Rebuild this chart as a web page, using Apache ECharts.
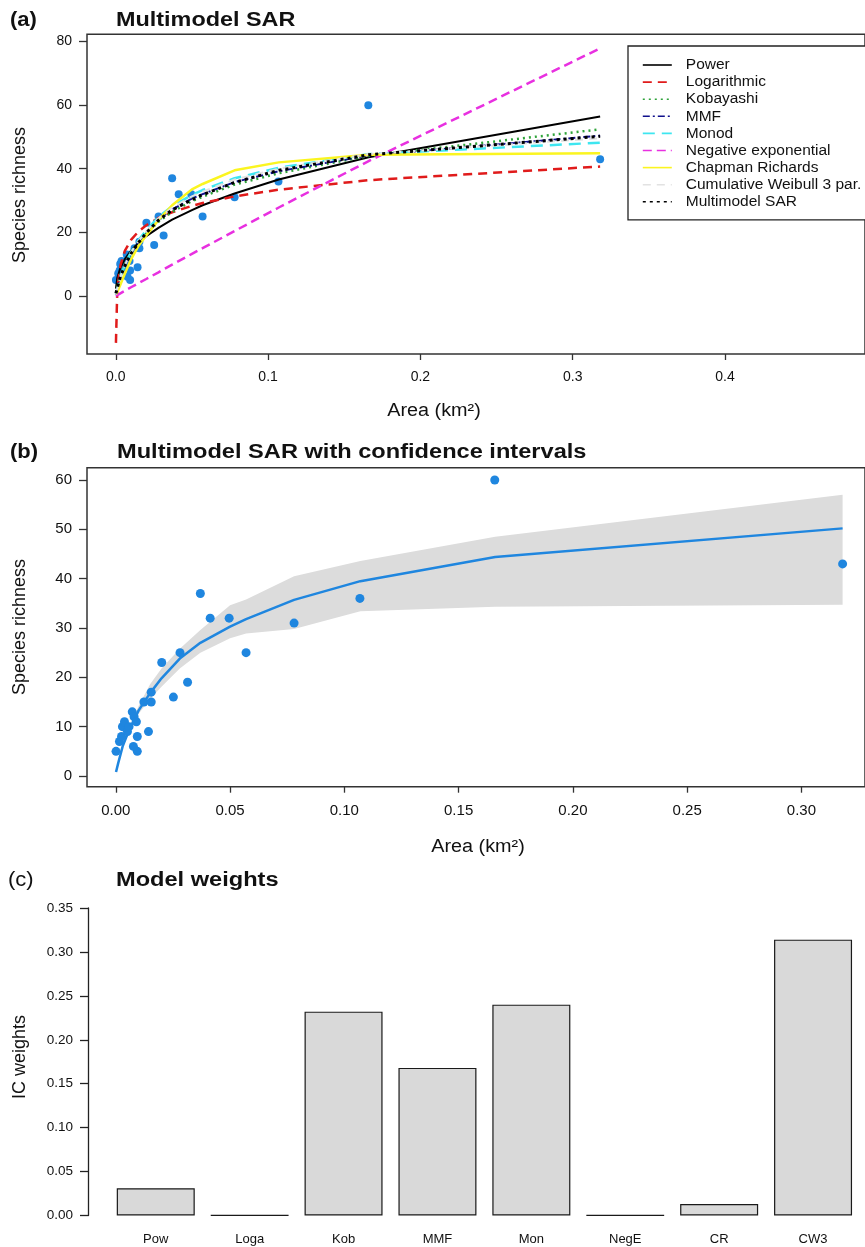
<!DOCTYPE html>
<html><head><meta charset="utf-8">
<script src="https://cdn.jsdelivr.net/npm/echarts@6/dist/echarts.min.js"></script>
<style>html,body{margin:0;padding:0;background:#fff}#c{width:865px;height:1247px}</style>
</head><body><div id="c"></div>
<script>
// ---------- data ----------
const areaObs = [0.0001,0.0016,0.0025,0.0029,0.0038,0.0051,0.0058,0.0072,0.0080,0.0090,0.0094,0.0077,0.0094,0.0123,0.0155,0.0155,0.0143,0.0201,0.0252,0.0281,0.0314,0.0370,0.0413,0.0496,0.0570,0.0780,0.1068,0.1658,0.3180];
const richObs = [5,7,8,10,11,9,10,13,12,11,8,6,5,15,15,17,9,23,16,25,19,37,32,32,25,31,36,60,43];

const curveX      = [0.0001,0.001,0.003,0.006,0.01,0.015,0.02,0.028,0.037,0.05,0.057,0.078,0.107,0.166,0.318];
const powerY      = [2.3,5.7,8.8,11.6,14.2,16.7,18.8,21.4,24.0,27.0,28.5,32.2,36.6,43.6,56.4];
const logY        = [-14.8,2.2,9.5,14.2,17.6,20.3,22.2,24.5,26.3,28.3,29.2,31.3,33.4,36.4,40.7];
const kobY        = [1.0,3.0,6.5,10.0,13.6,16.9,19.6,23.3,26.4,29.8,31.2,35.0,38.6,44.0,52.4];
const mmfY        = [0.5,2.4,6.0,9.6,13.4,17.0,20.0,24.0,27.2,30.6,32.0,35.8,39.2,44.2,50.4];
const monodY      = [0.3,2.2,6.0,9.8,13.8,17.6,20.6,24.8,28.2,31.8,33.3,37.0,40.3,44.6,48.2];
const negExpY     = [0.0,0.3,0.8,1.6,2.7,4.0,5.3,7.4,9.8,13.2,15.0,20.4,27.8,42.4,77.9];
const chapmanY    = [0.5,1.2,3.5,7.0,11.5,15.8,19.0,23.8,28.5,33.5,35.2,39.5,42.0,44.4,44.9];
const weibullY    = [0.5,2.3,6.0,9.7,13.6,17.3,20.3,24.4,27.8,31.3,32.8,36.6,40.0,44.6,49.6];
const multiY      = [0.8,2.5,6.0,9.5,13.3,16.8,19.8,23.8,27.0,30.3,31.8,35.7,39.5,44.4,50.2];
const ciLower     = [0.4,2.4,5.8,9.0,12.6,15.6,18.1,21.8,25.0,27.9,28.9,29.8,33.4,34.3,34.7];
const ciUpper     = [0.6,2.6,6.3,10.0,14.2,18.6,21.8,25.8,29.6,34.6,35.8,40.5,43.6,48.5,57.0];

const modelNames  = ['Power','Logarithmic','Kobayashi','MMF','Monod','Negative exponential','Chapman Richards','Cumulative Weibull 3 par.','Multimodel SAR'];
const weightCats  = ['Pow','Loga','Kob','MMF','Mon','NegE','CR','CW3'];
const weightVals  = [0.031,0.0002,0.232,0.168,0.240,0.0002,0.013,0.314];

const ticksAX = [0,0.1,0.2,0.3,0.4];
const ticksAY = [0,20,40,60,80];
const ticksBX = [0,0.05,0.10,0.15,0.20,0.25,0.30];
const ticksBY = [0,10,20,30,40,50,60];

// ---------- helpers ----------
const FONT = '"Liberation Sans", Arial, sans-serif';
const zip = (xs, ys) => xs.map((x, i) => [x, ys[i]]);
const obsPts = zip(areaObs, richObs);
const modelYs = [powerY, logY, kobY, mmfY, monodY, negExpY, chapmanY, weibullY, multiY];
const modelStyle = [
  {color:'#000000', width:2,   type:'solid'},
  {color:'#e01b1b', width:2.5, type:[9,6]},
  {color:'#2fa33a', width:2.5, type:[2,4]},
  {color:'#10108c', width:2,   type:[7,3,2,3]},
  {color:'#3ee6f0', width:2.5, type:[12,7]},
  {color:'#e830e0', width:2.5, type:[9,5]},
  {color:'#fbf520', width:2.5, type:'solid'},
  {color:'#e2e2e2', width:2,   type:[8,6]},
  {color:'#000000', width:3,   type:[3,4]}
];
const BLUE = '#1f86df';

const axisLbl = (size, fmt) => ({fontFamily: FONT, fontSize: size, color:'#111', formatter: fmt});

const series = [];
series.push({type:'scatter', xAxisIndex:0, yAxisIndex:0, data: obsPts, symbolSize:8,
  itemStyle:{color:BLUE, opacity:1}, z:1, silent:true});
modelNames.forEach((n, i) => {
  series.push({type:'line', name:n, xAxisIndex:0, yAxisIndex:0, data: zip(curveX, modelYs[i]),
    symbol:'none', smooth:false, z:2+i, silent:true,
    lineStyle:{color:modelStyle[i].color, width:modelStyle[i].width, type:modelStyle[i].type, cap:'butt'},
    itemStyle:{color:modelStyle[i].color}});
});
// panel b: confidence band as polygon through the axis scales
const bandData = curveX.map((x, i) => [x, ciLower[i], ciUpper[i]]);
series.push({type:'custom', name:'ciBand', xAxisIndex:1, yAxisIndex:1, data: bandData, silent:true, z:1,
  clip:true,
  renderItem: function (params, api) {
    if (params.dataIndex !== 0) return null;
    const up = bandData.map(d => api.coord([d[0], d[2]]));
    const lo = bandData.map(d => api.coord([d[0], d[1]])).reverse();
    return {type:'polygon', shape:{points: up.concat(lo)}, style:{fill:'#dcdcdc', stroke:null}};
  }});
series.push({type:'line', name:'mmB', xAxisIndex:1, yAxisIndex:1, data: zip(curveX, multiY),
  symbol:'none', lineStyle:{color:BLUE, width:2.5}, silent:true, z:3});
series.push({type:'scatter', name:'obsB', xAxisIndex:1, yAxisIndex:1, data: obsPts, symbolSize:9,
  itemStyle:{color:BLUE, opacity:1}, silent:true, z:4});
// panel c
series.push({type:'bar', name:'weights', xAxisIndex:2, yAxisIndex:2, data: weightVals, barWidth:78,
  itemStyle:{color:'#d9d9d9', borderColor:'#1a1a1a', borderWidth:1.2}, silent:true});

const txt = (x, y, t, size, bold, sx) => ({type:'text', x, y, scaleX: sx || 1,
  style:{text:t, fontFamily:FONT, fontSize:size, fontWeight: bold ? 'bold':'normal', fill:'#111',
         textVerticalAlign:'middle'}});
const rtxt = (x, y, t, size) => ({type:'text', x, y, rotation: Math.PI/2,
  style:{text:t, fontFamily:FONT, fontSize:size, fill:'#111', textAlign:'center', textVerticalAlign:'middle'}});
const ctxt = (x, y, t, size, sx) => ({type:'text', x, y, scaleX: sx || 1,
  style:{text:t, fontFamily:FONT, fontSize:size, fill:'#111', textAlign:'center', textVerticalAlign:'middle'}});

const tickStyle = {color:'#333', width:1.3};
const option = {
  animation:false,
  backgroundColor:'#fff',
  grid:[
    {left:87, right:-5, top:34.3, bottom:893, show:true, borderColor:'#333', borderWidth:1.5, backgroundColor:'transparent'},
    {left:87, right:-5, top:467.7, bottom:460.3, show:true, borderColor:'#333', borderWidth:1.5, backgroundColor:'transparent'},
    {left:108.8, right:5, top:908, bottom:31.5}
  ],
  xAxis:[
    {type:'value', gridIndex:0, min:-0.0189, max:0.4919, splitLine:{show:false},
     axisLine:{show:false, onZero:false}, axisTick:{show:true, customValues:ticksAX, length:6, lineStyle:tickStyle},
     axisLabel:Object.assign(axisLbl(14, v => v.toFixed(1)), {customValues:ticksAX, margin:16})},
    {type:'value', gridIndex:1, min:-0.0126, max:0.3278, splitLine:{show:false},
     axisLine:{show:false, onZero:false}, axisTick:{show:true, customValues:ticksBX, length:6, lineStyle:tickStyle},
     axisLabel:Object.assign(axisLbl(15, v => v.toFixed(2)), {customValues:ticksBX, margin:17})},
    {type:'category', gridIndex:2, data:weightCats, axisLine:{show:false, onZero:false}, axisTick:{show:false},
     axisLabel:Object.assign(axisLbl(13), {margin:17})}
  ],
  yAxis:[
    {type:'value', gridIndex:0, min:-18.3, max:82.3, splitLine:{show:false},
     axisLine:{show:false, onZero:false}, axisTick:{show:true, customValues:ticksAY, length:8, lineStyle:tickStyle},
     axisLabel:Object.assign(axisLbl(14, v => String(v)), {customValues:ticksAY, margin:15})},
    {type:'value', gridIndex:1, min:-2.17, max:62.5, splitLine:{show:false},
     axisLine:{show:false, onZero:false}, axisTick:{show:true, customValues:ticksBY, length:8, lineStyle:tickStyle},
     axisLabel:Object.assign(axisLbl(15, v => String(v)), {customValues:ticksBY, margin:15})},
    {type:'value', gridIndex:2, min:0, max:0.35, interval:0.05, offset:20.8, splitLine:{show:false},
     axisLine:{show:true, onZero:false, lineStyle:{color:'#222', width:1.3}},
     axisTick:{show:true, length:8, lineStyle:{color:'#222', width:1.3}},
     axisLabel:Object.assign(axisLbl(13.5, v => v.toFixed(2)), {margin:15})}
  ],
  legend:{
    data: modelNames, orient:'vertical', left:628, top:46,
    backgroundColor:'#fff', borderColor:'#222', borderWidth:1.3,
    padding:[11, 40, 10, 14], itemWidth:29, itemHeight:14, itemGap:1.1,
    itemStyle:{opacity:0}, lineStyle:{width:1.6},
    textStyle:{fontFamily:FONT, fontSize:15.5, color:'#111', lineHeight:14, padding:[0,0,0,9]},
    selectedMode:false
  },
  graphic:[
    txt(10, 20, '(a)', 20, true, 1.1),
    txt(116, 20, 'Multimodel SAR', 20, true, 1.17),
    rtxt(20, 195, 'Species richness', 18),
    ctxt(434, 411, 'Area (km\u00b2)', 18, 1.1),
    txt(10, 452, '(b)', 20, true, 1.1),
    txt(117, 452, 'Multimodel SAR with confidence intervals', 20, true, 1.18),
    rtxt(20, 627, 'Species richness', 18),
    ctxt(478, 847, 'Area (km\u00b2)', 18, 1.1),
    txt(8, 880, '(c)', 20, false, 1.1),
    txt(116, 880, 'Model weights', 20, true, 1.18),
    rtxt(20, 1057, 'IC weights', 18)
  ],
  series
};
const chart = echarts.init(document.getElementById('c'), null, {renderer:'canvas'});
chart.setOption(option);
</script></body></html>
